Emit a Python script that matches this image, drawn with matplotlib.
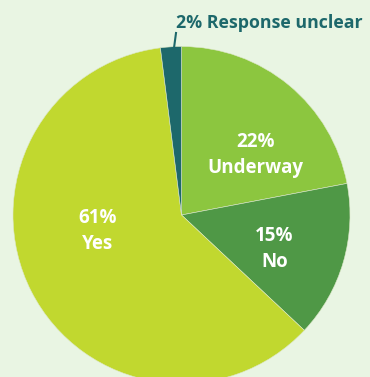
import matplotlib.pyplot as plt

labels = ['Underway', 'No', 'Yes', 'Response unclear']
values = [22, 15, 61, 2]
colors = ['#8cc63f', '#4f9846', '#c1d82f', '#1d686b']

bg = '#e9f5e3'
W, H = 370, 377
cx, cy, r = 181.5, H - 215, 168.5

fig = plt.figure(figsize=(W / 100, H / 100), dpi=100)
fig.patch.set_facecolor(bg)
ax = fig.add_axes([0, 0, 1, 1])
ax.set_facecolor(bg)

ax.pie(values, colors=colors, startangle=90, counterclock=False,
       center=(cx, cy), radius=r, frame=True,
       wedgeprops=dict(linewidth=0.4, edgecolor='#dde8c8'))
ax.set_xlim(0, W)
ax.set_ylim(0, H)
ax.set_aspect('equal')
ax.axis('off')

font = ['Open Sans', 'DejaVu Sans']
# label offsets from pie centre (pixels)
offsets = [(74, 60), (93, -34), (-84, -16)]
for (dx, dy), lab, v in zip(offsets, labels[:3], values[:3]):
    ax.text(cx + dx, cy + dy, '{}%\n{}'.format(v, lab), color='white',
            fontsize=13.5, fontweight='bold', family=font,
            ha='center', va='center', linespacing=1.35)

# callout for the small slice
ax.plot([cx - 7.5, cx - 5.5], [H - 48, H - 33], color=colors[3], lw=1.5)
ax.text(cx - 5, H - 23, '{}% {}'.format(values[3], labels[3]), color=colors[3],
        fontsize=12.8, fontweight='bold', family=font, ha='left', va='center')

fig.savefig('out.png', dpi=100, facecolor=bg)
